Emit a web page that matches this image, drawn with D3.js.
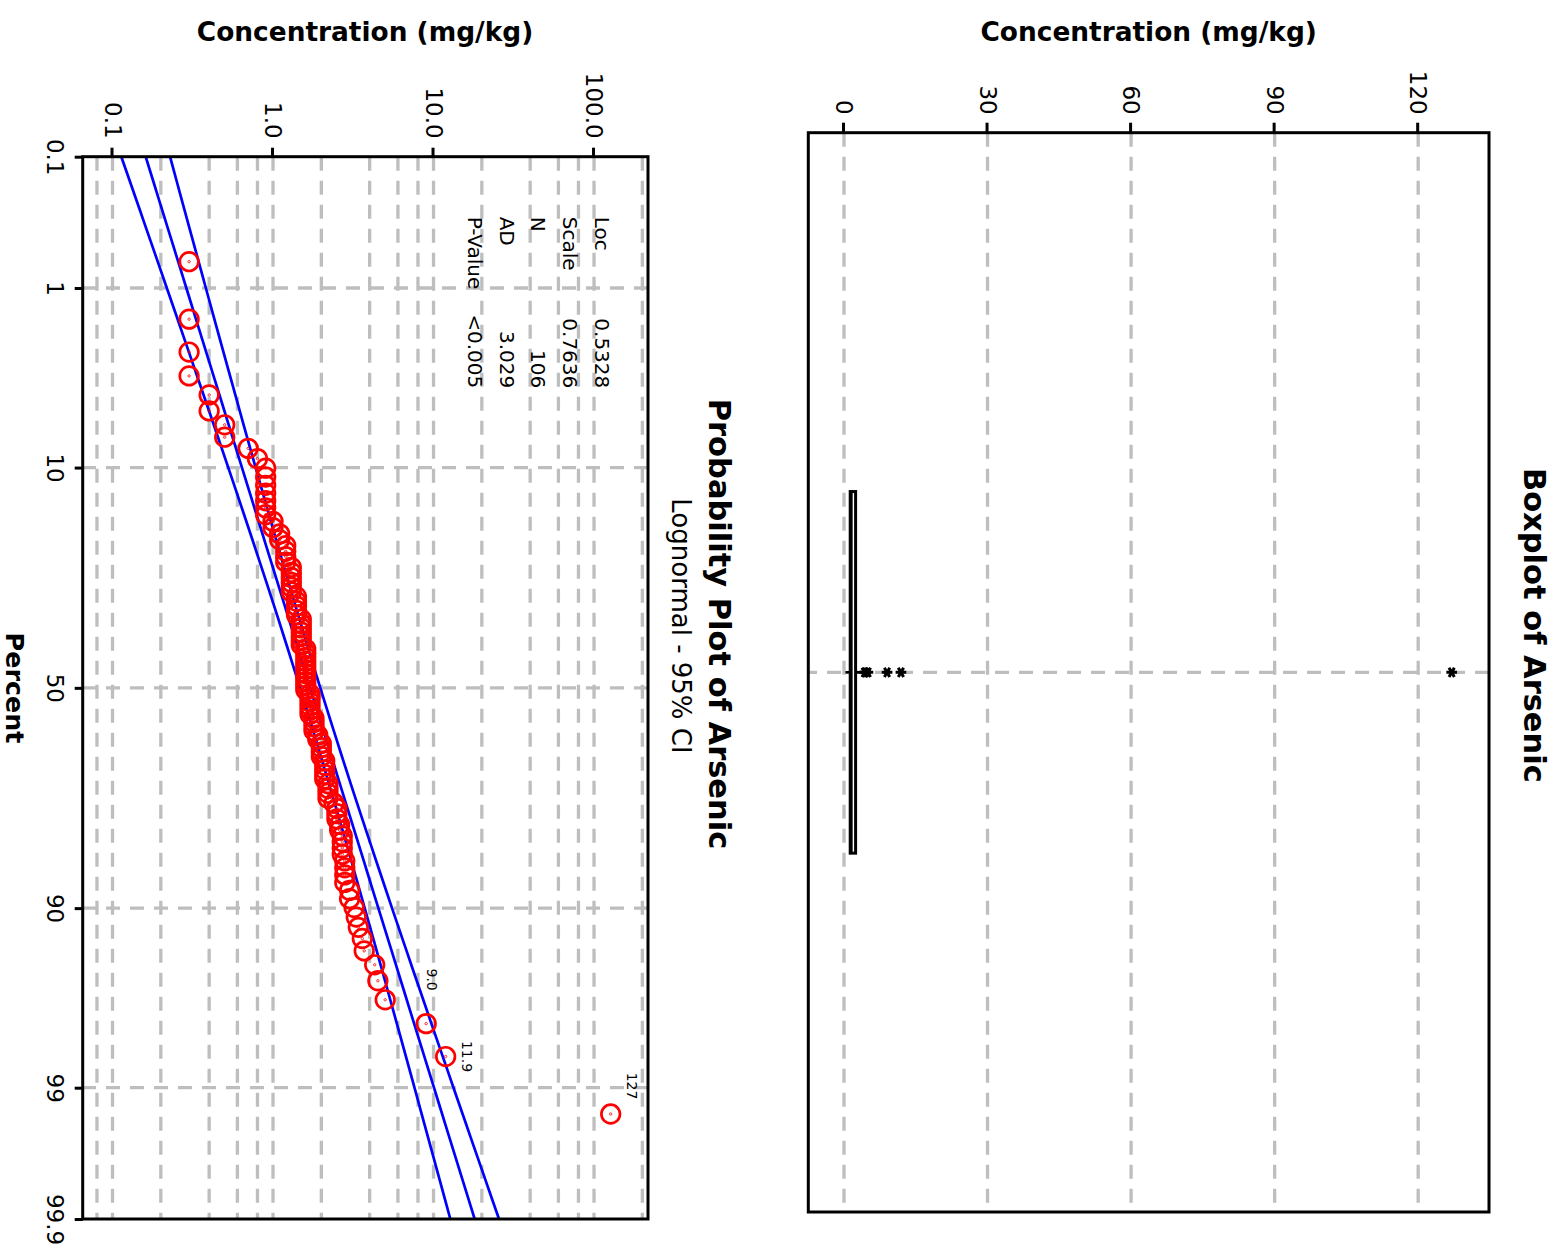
<!DOCTYPE html>
<html><head><meta charset="utf-8">
<script src="https://cdn.jsdelivr.net/npm/d3@7"></script>
<style>
body{margin:0;background:#fff}
svg{display:block}
text{font-family:"DejaVu Sans",Verdana,sans-serif}
</style>
</head><body><script>
// ---------------- data ----------------
const arsenicValues = [
  0.3,0.3,0.3,0.3,0.4,0.4,0.5,0.5,0.7,0.8,
  0.9,0.9,0.9,0.9,0.9,0.9,0.9,1.0,1.0,1.1,
  1.1,1.2,1.2,1.2,1.2,1.3,1.3,1.3,1.3,1.3,
  1.3,1.4,1.4,1.4,1.4,1.4,1.5,1.5,1.5,1.5,
  1.5,1.5,1.5,1.6,1.6,1.6,1.6,1.6,1.6,1.6,
  1.6,1.6,1.6,1.6,1.7,1.7,1.7,1.7,1.7,1.7,
  1.8,1.8,1.8,1.8,1.9,1.9,2.0,2.0,2.0,2.0,
  2.1,2.1,2.1,2.1,2.1,2.2,2.2,2.2,2.2,2.4,
  2.5,2.5,2.5,2.6,2.6,2.7,2.7,2.7,2.7,2.8,
  2.8,2.8,2.8,3.0,3.0,3.2,3.3,3.4,3.6,3.7,
  4.3,4.5,5.0,9.0,11.9,127
];
const labeledValues = [9.0, 11.9, 127];
const labeledTexts = ["9.0", "11.9", "127"];
const statLabels = ["Loc", "Scale", "N", "AD", "P-Value"];
const statValues = ["0.5328", "0.7636", "106", "3.029", "<0.005"];
const boxTicks = [0, 30, 60, 90, 120];
const logTicks = [0.1, 1, 10, 100];
const logTickLabels = ["0.1", "1.0", "10.0", "100.0"];
const logGrid = [0.08, 0.1, 0.2, 0.4, 0.6, 0.8, 1, 2, 4, 6, 8, 10, 20, 40, 60, 80, 100, 200];
const pctTicks = [0.1, 1, 10, 50, 90, 99, 99.9];
const pctTickLabels = ["0.1", "1", "10", "50", "90", "99", "99.9"];
const pctGrid = [1, 10, 50, 90, 99];

// ---------------- helpers ----------------
function qnorm(p){
  const a=[-3.969683028665376e+01,2.209460984245205e+02,-2.759285104469687e+02,1.383577518672690e+02,-3.066479806614716e+01,2.506628277459239e+00];
  const b=[-5.447609879822406e+01,1.615858368580409e+02,-1.556989798598866e+02,6.680131188771972e+01,-1.328068155288572e+01];
  const c=[-7.784894002430293e-03,-3.223964580411365e-01,-2.400758277161838e+00,-2.549732539343734e+00,4.374664141464968e+00,2.938163982698783e+00];
  const d=[7.784695709041462e-03,3.224671290700398e-01,2.445134137142996e+00,3.754408661907416e+00];
  const pl=0.02425, ph=1-pl; let q,r;
  if(p<pl){q=Math.sqrt(-2*Math.log(p));return (((((c[0]*q+c[1])*q+c[2])*q+c[3])*q+c[4])*q+c[5])/((((d[0]*q+d[1])*q+d[2])*q+d[3])*q+1);}
  if(p<=ph){q=p-0.5;r=q*q;return (((((a[0]*r+a[1])*r+a[2])*r+a[3])*r+a[4])*r+a[5])*q/(((((b[0]*r+b[1])*r+b[2])*r+b[3])*r+b[4])*r+1);}
  q=Math.sqrt(-2*Math.log(1-p));return -(((((c[0]*q+c[1])*q+c[2])*q+c[3])*q+c[4])*q+c[5])/((((d[0]*q+d[1])*q+d[2])*q+d[3])*q+1);
}
function quantMinitab(sorted, p){
  const n=sorted.length, pos=p*(n+1);
  const lo=Math.floor(pos), f=pos-lo;
  if(lo<1) return sorted[0];
  if(lo>=n) return sorted[n-1];
  return sorted[lo-1]+f*(sorted[lo]-sorted[lo-1]);
}

const W=1561, H=1255;
const GRID="#BEBEBE", DASH="14,10", GW=3.3;
const svg=d3.select("body").append("svg").attr("width",W).attr("height",H);
svg.append("rect").attr("width",W).attr("height",H).attr("fill","#fff");
// the whole figure is turned a quarter turn clockwise
const g=svg.append("g").attr("transform",`translate(${W},0) rotate(90)`);

// ================= Boxplot =================
const bp={u0:132.7,u1:1212,v0:72,v1:752.7};
const yB=d3.scaleLinear().domain([-7.46,134.8]).range([bp.v1,bp.v0]);
const gB=g.append("g");
gB.append("g").selectAll("line").data(boxTicks).join("line")
  .attr("x1",bp.u0).attr("x2",bp.u1).attr("y1",d=>yB(d)).attr("y2",d=>yB(d))
  .attr("stroke",GRID).attr("stroke-width",GW).attr("stroke-dasharray",DASH);
const uC=(bp.u0+bp.u1)/2;
gB.append("line").attr("x1",uC).attr("x2",uC).attr("y1",bp.v0).attr("y2",bp.v1)
  .attr("stroke",GRID).attr("stroke-width",GW).attr("stroke-dasharray",DASH);

const sorted=arsenicValues.slice().sort((a,b)=>a-b);
const q1=quantMinitab(sorted,0.25), med=quantMinitab(sorted,0.5), q3=quantMinitab(sorted,0.75);
const iqr=q3-q1, loF=q1-1.5*iqr, hiF=q3+1.5*iqr;
const inside=sorted.filter(v=>v>=loF&&v<=hiF);
const wLo=d3.min(inside), wHi=d3.max(inside);
const outliers=sorted.filter(v=>v<loF||v>hiF);
const halfW=180.8;
gB.append("line").attr("x1",uC).attr("x2",uC).attr("y1",yB(wLo)).attr("y2",yB(q1)).attr("stroke","#000").attr("stroke-width",2.7);
gB.append("line").attr("x1",uC).attr("x2",uC).attr("y1",yB(q3)).attr("y2",yB(wHi)).attr("stroke","#000").attr("stroke-width",2.7);
gB.append("rect").attr("x",uC-halfW).attr("width",2*halfW)
  .attr("y",yB(q3)).attr("height",yB(q1)-yB(q3))
  .attr("fill","#fff").attr("stroke","#000").attr("stroke-width",3);
gB.append("line").attr("x1",uC-halfW).attr("x2",uC+halfW).attr("y1",yB(med)).attr("y2",yB(med)).attr("stroke","#000").attr("stroke-width",2);
const ast=d3.symbol().type(d3.symbolAsterisk).size(80);
gB.append("g").selectAll("path").data(outliers).join("path")
  .attr("d",ast).attr("transform",d=>`translate(${uC},${yB(d)})`)
  .attr("stroke","#000").attr("stroke-width",3).attr("fill","none");
const axB=gB.append("g").attr("transform",`translate(${bp.u0},0)`)
  .call(d3.axisLeft(yB).tickValues(boxTicks).tickSize(10).tickPadding(8).tickFormat(d3.format("d")));
axB.select(".domain").remove();
axB.selectAll("line").attr("stroke","#000").attr("stroke-width",3);
axB.selectAll("text").attr("font-size",23).attr("font-family","DejaVu Sans").attr("fill","#000");
gB.append("rect").attr("x",bp.u0).attr("y",bp.v0).attr("width",bp.u1-bp.u0).attr("height",bp.v1-bp.v0)
  .attr("fill","none").attr("stroke","#000").attr("stroke-width",3);
gB.append("text").attr("x",(bp.u0+bp.u1)/2-47).attr("y",37).attr("text-anchor","middle")
  .attr("font-weight","bold").attr("font-size",30.5).text("Boxplot of Arsenic");
gB.append("text").attr("transform",`translate(41,${(bp.v0+bp.v1)/2}) rotate(-90)`).attr("text-anchor","middle")
  .attr("font-weight","bold").attr("font-size",26.4).text("Concentration (mg/kg)");

// ================= Probability plot =================
const pp={u0:156.7,u1:1219,v0:913,v1:1478.3};
const zMax=qnorm(0.999);
const xP=d3.scaleLinear().domain([-zMax,zMax]).range([pp.u0,pp.u1]);
const yP=d3.scaleLog().domain([0.0652,216.9]).range([pp.v1,pp.v0]);
const gP=g.append("g");
gP.append("g").selectAll("line").data(logGrid).join("line")
  .attr("x1",pp.u0).attr("x2",pp.u1).attr("y1",d=>yP(d)).attr("y2",d=>yP(d))
  .attr("stroke",GRID).attr("stroke-width",GW).attr("stroke-dasharray",DASH);
gP.append("g").selectAll("line").data(pctGrid).join("line")
  .attr("x1",d=>xP(qnorm(d/100))).attr("x2",d=>xP(qnorm(d/100))).attr("y1",pp.v0).attr("y2",pp.v1)
  .attr("stroke",GRID).attr("stroke-width",GW).attr("stroke-dasharray",DASH);

// fitted lognormal line and 95% CI from the stated Loc / Scale / N
const loc=parseFloat(statValues[0]), sc=parseFloat(statValues[1]), nN=parseInt(statValues[2]);
const zs=d3.range(0,81).map(i=>-zMax+2*zMax*i/80);
const lineGen=d3.line().x(d=>xP(d[0])).y(d=>yP(d[1]));
const fitC=zs.map(z=>[z,Math.exp(loc+sc*z)]);
const fitL=zs.map(z=>[z,Math.exp(loc+sc*z-1.96*sc*Math.sqrt((1+z*z/2)/nN))]);
const fitU=zs.map(z=>[z,Math.exp(loc+sc*z+1.96*sc*Math.sqrt((1+z*z/2)/nN))]);
[fitL,fitC,fitU].forEach(dd=>gP.append("path").attr("d",lineGen(dd)).attr("fill","none")
  .attr("stroke","#0000FF").attr("stroke-width",2.7));

const n=sorted.length;
const pts=sorted.map((v,i)=>({v, z:qnorm((i+1-0.3)/(n+0.4))}));
const gPts=gP.append("g");
gPts.selectAll("circle.o").data(pts).join("circle").attr("class","o")
  .attr("cx",d=>xP(d.z)).attr("cy",d=>yP(d.v)).attr("r",9.3)
  .attr("fill","none").attr("stroke","#FF0000").attr("stroke-width",2.7);
gPts.selectAll("circle.c").data(pts).join("circle").attr("class","c")
  .attr("cx",d=>xP(d.z)).attr("cy",d=>yP(d.v)).attr("r",1.2)
  .attr("fill","none").attr("stroke","#FF0000").attr("stroke-width",0.8);

const labelOffsets=[[-44,-6],[0,-21],[-28,-21]];
labeledValues.forEach((val,k)=>{
  const p=pts.find(d=>d.v===val);
  gP.append("text").attr("x",xP(p.z)+labelOffsets[k][0]).attr("y",yP(p.v)+labelOffsets[k][1])
    .attr("text-anchor","middle").attr("dominant-baseline","central").attr("font-size",14).text(labeledTexts[k]);
});

// stats table
statLabels.forEach((s,i)=>{
  const vb=966+31.8*i;
  gP.append("text").attr("x",216.7).attr("y",vb).attr("font-size",20).text(s);
  gP.append("text").attr("x",388.3).attr("y",vb).attr("font-size",20).attr("text-anchor","end").text(statValues[i]);
});

const axL=gP.append("g").attr("transform",`translate(${pp.u0},0)`)
  .call(d3.axisLeft(yP).tickValues(logTicks).tickSize(9).tickPadding(9).tickFormat((d,i)=>logTickLabels[i]));
axL.select(".domain").remove();
axL.selectAll("line").attr("stroke","#000").attr("stroke-width",3);
axL.selectAll("text").attr("font-size",23).attr("font-family","DejaVu Sans").attr("fill","#000");
const axBt=gP.append("g").attr("transform",`translate(0,${pp.v1})`)
  .call(d3.axisBottom(xP).tickValues(pctTicks.map(p=>qnorm(p/100))).tickSize(8).tickPadding(11).tickFormat((d,i)=>pctTickLabels[i]));
axBt.select(".domain").remove();
axBt.selectAll("line").attr("stroke","#000").attr("stroke-width",3);
axBt.selectAll("text").attr("font-size",23).attr("font-family","DejaVu Sans").attr("fill","#000");

gP.append("rect").attr("x",pp.u0).attr("y",pp.v0).attr("width",pp.u1-pp.u0).attr("height",pp.v1-pp.v0)
  .attr("fill","none").attr("stroke","#000").attr("stroke-width",3);

gP.append("text").attr("x",624).attr("y",852).attr("text-anchor","middle")
  .attr("font-weight","bold").attr("font-size",30.5).text("Probability Plot of Arsenic");
gP.append("text").attr("x",626).attr("y",889).attr("text-anchor","middle")
  .attr("font-size",26).text("Lognormal - 95% CI");
gP.append("text").attr("transform",`translate(41,1196) rotate(-90)`).attr("text-anchor","middle")
  .attr("font-weight","bold").attr("font-size",26.4).text("Concentration (mg/kg)");
gP.append("text").attr("x",688).attr("y",1555).attr("text-anchor","middle")
  .attr("font-weight","bold").attr("font-size",25.4).text("Percent");
</script></body></html>
